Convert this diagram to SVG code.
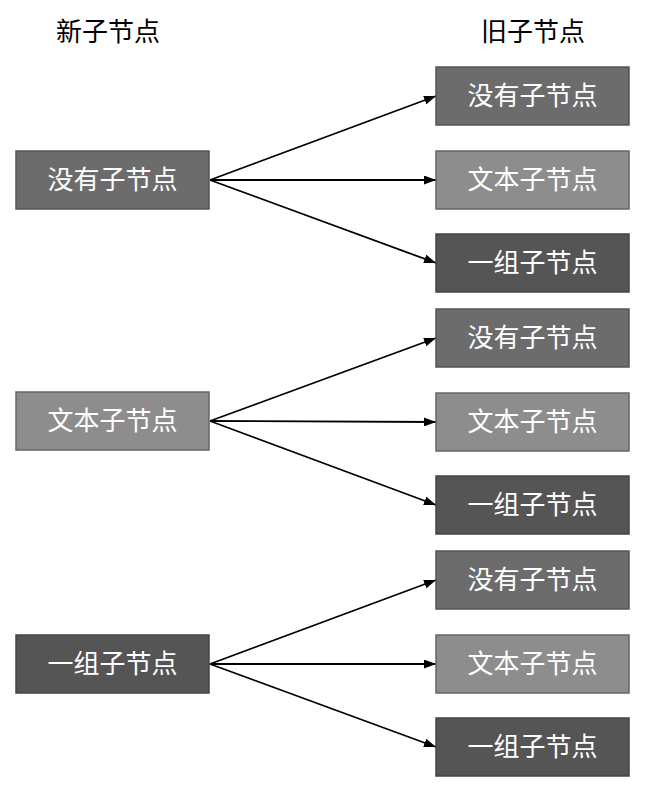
<svg xmlns="http://www.w3.org/2000/svg" width="666" height="802" viewBox="0 0 666 802">
<style>
.t{font-family:"Liberation Sans","Noto Sans CJK SC",sans-serif;font-size:26px;text-anchor:middle;}
.h{fill:#000;}
.n{fill:#fff;dominant-baseline:central;}
.a{fill:#6c6c6c;stroke:#555;stroke-width:1.5;}
.b{fill:#8d8d8d;stroke:#666;stroke-width:1.5;}
.c{fill:#555;stroke:#444;stroke-width:1.5;}
.e{stroke:#000;stroke-width:1.8;fill:none;marker-end:url(#ar);}
</style>
<defs>
<marker id="ar" viewBox="0 0 12 9" refX="12" refY="4.5" markerWidth="12" markerHeight="9" orient="auto" markerUnits="userSpaceOnUse"><path d="M0,0L12,4.5L0,9z" fill="#000"/></marker>
</defs>
<rect width="666" height="802" fill="#fff"/>
<text class="t h" x="108" y="41">新子节点</text>
<text class="t h" x="533" y="41">旧子节点</text>
<g id="connectors">
<line class="e" x1="210" y1="180" x2="436" y2="96"/>
<line class="e" x1="210" y1="180" x2="436" y2="180"/>
<line class="e" x1="210" y1="180" x2="436" y2="263"/>
<line class="e" x1="210" y1="421" x2="436" y2="338"/>
<line class="e" x1="210" y1="421" x2="436" y2="422"/>
<line class="e" x1="210" y1="421" x2="436" y2="505"/>
<line class="e" x1="210" y1="664" x2="436" y2="580"/>
<line class="e" x1="210" y1="664" x2="436" y2="664"/>
<line class="e" x1="210" y1="664" x2="436" y2="747"/>
</g>
<g id="new1"><rect class="a" x="16" y="151" width="193" height="58"/><text class="t n" x="112.5" y="180">没有子节点</text></g>
<g id="new2"><rect class="b" x="16" y="392" width="193" height="58"/><text class="t n" x="112.5" y="421">文本子节点</text></g>
<g id="new3"><rect class="c" x="16" y="635" width="193" height="58"/><text class="t n" x="112.5" y="664">一组子节点</text></g>
<g id="old1"><rect class="a" x="436" y="67" width="193" height="58"/><text class="t n" x="532.5" y="96">没有子节点</text></g>
<g id="old2"><rect class="b" x="436" y="151" width="193" height="58"/><text class="t n" x="532.5" y="180">文本子节点</text></g>
<g id="old3"><rect class="c" x="436" y="234" width="193" height="58"/><text class="t n" x="532.5" y="263">一组子节点</text></g>
<g id="old4"><rect class="a" x="436" y="309" width="193" height="58"/><text class="t n" x="532.5" y="338">没有子节点</text></g>
<g id="old5"><rect class="b" x="436" y="393" width="193" height="58"/><text class="t n" x="532.5" y="422">文本子节点</text></g>
<g id="old6"><rect class="c" x="436" y="476" width="193" height="58"/><text class="t n" x="532.5" y="505">一组子节点</text></g>
<g id="old7"><rect class="a" x="436" y="551" width="193" height="58"/><text class="t n" x="532.5" y="580">没有子节点</text></g>
<g id="old8"><rect class="b" x="436" y="635" width="193" height="58"/><text class="t n" x="532.5" y="664">文本子节点</text></g>
<g id="old9"><rect class="c" x="436" y="718" width="193" height="58"/><text class="t n" x="532.5" y="747">一组子节点</text></g>
</svg>
